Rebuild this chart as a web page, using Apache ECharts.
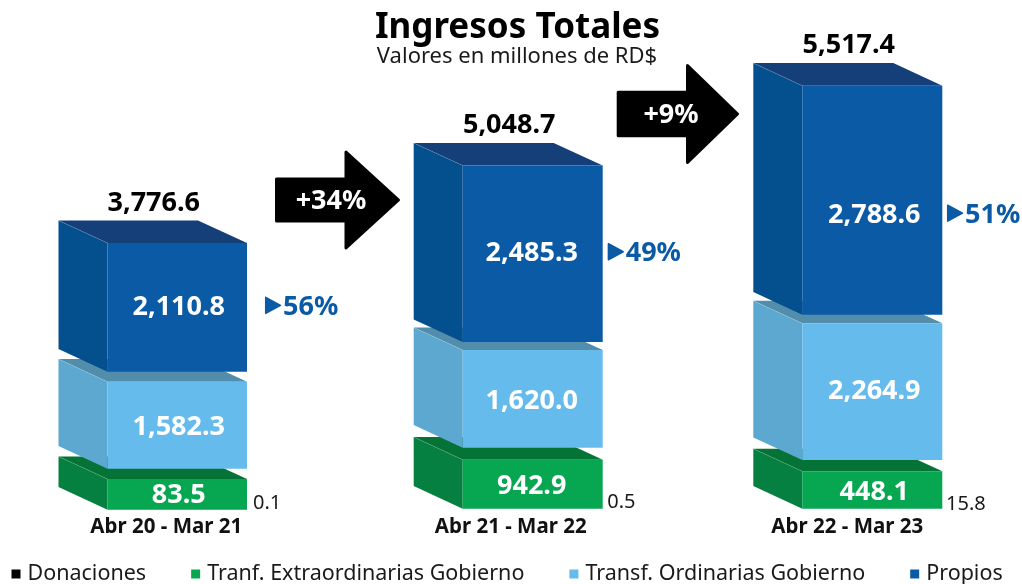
<!DOCTYPE html>
<html><head><meta charset="utf-8">
<style>html,body{margin:0;padding:0;background:#fff}#c{width:1022px;height:584px}</style>
<script src="https://cdn.jsdelivr.net/npm/echarts@6/dist/echarts.min.js"></script>
</head><body><div id="c"></div>
<script>
// Printed data
const periods = ['Abr 20 - Mar 21', 'Abr 21 - Mar 22', 'Abr 22 - Mar 23'];
const totales = [3776.6, 5048.7, 5517.4];
const donaciones = [0.1, 0.5, 15.8];
const extraordinarias = [83.5, 942.9, 448.1];
const ordinarias = [1582.3, 1620.0, 2264.9];
const propios = [2110.8, 2485.3, 2788.6];
const propiosPct = ['56%', '49%', '51%'];
const growth = ['+34%', '+9%'];

// The source blocks are not drawn to scale with their printed values, so block
// extents are read from the picture separately, in units of the hidden y axis.
const extraordinariasSpan = [[0.3, 31], [1.3, 50.3], [1.3, 38.7]];
const ordinariasSpan = [[41.3, 128.3], [62.3, 160], [50, 186.7]];
const propiosSpan = [[138.3, 267], [168, 344.5], [195.3, 424.3]];

const FONT = '"Noto Sans"';
const fmt = v => v.toLocaleString('en-US', {minimumFractionDigits: 1, maximumFractionDigits: 1});

// labelLift order: extraordinarias, propios, ordinarias
const grids = [
  {left: 107.5, width: 139.5, labelShift: 11, labelX: 1.5, pctGap: 18, donGap: 6, donY: 7, labelLift: [-1, 0, -2]},
  {left: 462.7, width: 140, labelShift: 22, labelX: -1, pctGap: 5, donGap: 4.5, donY: 7.5, labelLift: [-2, 0, -2]},
  {left: 802.3, width: 140, labelShift: 25, labelX: 2, pctGap: 4.7, donGap: 3.7, donY: 6, labelLift: [-2, -15, 0]}
];
const DX = 49, DY = 22.6;
const faces = {
  extra: {front: '#07A650', top: '#047335', side: '#058040'},
  ord: {front: '#66BBED', top: '#528DAB', side: '#5CA8D0'},
  prop: {front: '#0A5AA6', top: '#153F78', side: '#04508F'}
};

function block(colors, g, withTotal) {
  return function (params, api) {
    const p0 = api.coord([api.value(0), api.value(1)]);
    const p1 = api.coord([api.value(0), api.value(2)]);
    const w = api.size([1, 0])[0];
    const xL = p0[0] - w / 2, xR = p0[0] + w / 2, yB = p0[1], yT = p1[1];
    const ty = (yB + yT) / 2 - api.value(4);
    const children = [
      {type: 'polygon', shape: {points: [[xL - DX, yT - DY], [xR - DX, yT - DY], [xR, yT], [xL, yT]]}, style: {fill: colors.top}},
      {type: 'polygon', shape: {points: [[xL - DX, yT - DY], [xL, yT], [xL, yB], [xL - DX, yB - DY]]}, style: {fill: colors.side}},
      {type: 'rect', shape: {x: xL, y: yT, width: w, height: yB - yT}, style: {fill: colors.front}},
      {type: 'polyline', shape: {points: [[xL - DX, yT - DY], [xL, yT]]}, style: {stroke: 'rgba(255,255,255,0.12)', lineWidth: 1, fill: null}},
      {type: 'text', style: {text: api.value(3), x: p0[0] + g.labelX, y: ty, fill: '#fff', align: 'center', verticalAlign: 'middle', font: 'bold 27px ' + FONT}}
    ];
    if (withTotal) {
      const gap = api.value(5);
      children.push(
        {type: 'text', style: {text: api.value(6), x: p0[0] - 23.5, y: yT - DY - 17.5, fill: '#000', align: 'center', verticalAlign: 'middle', font: 'bold 27px ' + FONT}},
        {type: 'polygon', shape: {points: [[xR + gap + 0.7, ty - 10], [xR + gap + 15.5, ty - 2], [xR + gap + 0.7, ty + 6]]}, style: {fill: '#0A5AA6', stroke: '#0A5AA6', lineWidth: 1.5, lineJoin: 'round'}},
        {type: 'text', style: {text: api.value(7), x: xR + gap + 18, y: ty, fill: '#0A5AA6', align: 'left', verticalAlign: 'middle', font: 'bold 27px ' + FONT}}
      );
    }
    return {type: 'group', children};
  };
}

function donRender(params, api) {
  const p = api.coord([api.value(0), 0]);
  const w = api.size([1, 0])[0];
  return {type: 'text', style: {text: api.value(1), x: p[0] + w / 2 + api.value(2), y: p[1] - api.value(3), fill: '#1a1a1a', align: 'left', verticalAlign: 'middle', font: '20px ' + FONT}};
}

const series = [];
periods.forEach((per, i) => {
  const g = grids[i];
  series.push({
    name: 'Donaciones', type: 'custom', xAxisIndex: i, yAxisIndex: i, itemStyle: {color: '#000'},
    renderItem: donRender, encode: {x: 0, y: -1}, silent: true,
    data: [[0, String(donaciones[i]), g.donGap, g.donY]]
  });
  series.push({
    name: 'Tranf. Extraordinarias Gobierno', type: 'custom', xAxisIndex: i, yAxisIndex: i, itemStyle: {color: faces.extra.front},
    renderItem: block(faces.extra, g, false), encode: {x: 0, y: [1, 2]}, silent: true,
    data: [[0, extraordinariasSpan[i][0], extraordinariasSpan[i][1], fmt(extraordinarias[i]), g.labelLift[0]]]
  });
  series.push({
    name: 'Transf. Ordinarias Gobierno', type: 'custom', xAxisIndex: i, yAxisIndex: i, itemStyle: {color: faces.ord.front},
    renderItem: block(faces.ord, g, false), encode: {x: 0, y: [1, 2]}, silent: true,
    data: [[0, ordinariasSpan[i][0], ordinariasSpan[i][1], fmt(ordinarias[i]), g.labelLift[2]]]
  });
  series.push({
    name: 'Propios', type: 'custom', xAxisIndex: i, yAxisIndex: i, itemStyle: {color: faces.prop.front},
    renderItem: block(faces.prop, g, true), encode: {x: 0, y: [1, 2]}, silent: true,
    data: [[0, propiosSpan[i][0], propiosSpan[i][1], fmt(propios[i]), g.labelLift[1], g.pctGap, fmt(totales[i]), propiosPct[i]]]
  });
});

function arrow(x0, xHead, xTip, yC, bodyH, headH) {
  return [[x0, yC - bodyH / 2], [xHead, yC - bodyH / 2], [xHead, yC - headH / 2], [xTip, yC], [xHead, yC + headH / 2], [xHead, yC + bodyH / 2], [x0, yC + bodyH / 2]];
}
const arrowBox = [[276.5, 346, 398.5, 200, 42, 96, 331], [618.2, 687.5, 737.5, 114, 43.5, 97, 671]];

const option = {
  animation: false,
  backgroundColor: '#fff',
  title: [
    {text: 'Ingresos Totales', left: 512.5, top: 6, textAlign: 'center', textStyle: {fontFamily: FONT, fontWeight: 'bold', fontSize: 35, color: '#000'}},
    {text: 'Valores en millones de RD$', left: 512, top: 41, textAlign: 'center', textStyle: {fontFamily: FONT, fontWeight: 'normal', fontSize: 22, color: '#1a1a1a'}}
  ],
  legend: {
    left: 6.5, top: 558, itemWidth: 9, itemHeight: 9, itemGap: 45, icon: 'rect',
    selectedMode: false,
    textStyle: {fontFamily: FONT, fontSize: 21.5, color: '#1a1a1a', padding: [0, 0, 0, 2]},
    data: ['Donaciones', 'Tranf. Extraordinarias Gobierno', 'Transf. Ordinarias Gobierno', 'Propios']
  },
  grid: grids.map(g => ({left: g.left, width: g.width, top: 0, height: 510})),
  xAxis: periods.map((p, i) => ({
    type: 'category', gridIndex: i, data: [p],
    axisLine: {show: false}, axisTick: {show: false}, splitLine: {show: false},
    axisLabel: {interval: 0, margin: 7, fontFamily: FONT, fontWeight: 'bold', fontSize: 20.5, color: '#111', padding: [0, grids[i].labelShift * 2, 0, 0]}
  })),
  yAxis: periods.map((p, i) => ({type: 'value', gridIndex: i, min: 0, max: 510, show: false})),
  series,
  graphic: arrowBox.flatMap((a, i) => [
    {type: 'polygon', shape: {points: arrow(a[0], a[1], a[2], a[3], a[4], a[5])}, style: {fill: '#000', stroke: '#000', lineWidth: 3, lineJoin: 'round'}, z: 5},
    {type: 'text', style: {text: growth[i], x: a[6], y: a[3] + 1.5, fill: '#fff', align: 'center', verticalAlign: 'middle', font: 'bold 27px ' + FONT}, z: 6}
  ])
};
echarts.init(document.getElementById('c')).setOption(option);
</script></body></html>
